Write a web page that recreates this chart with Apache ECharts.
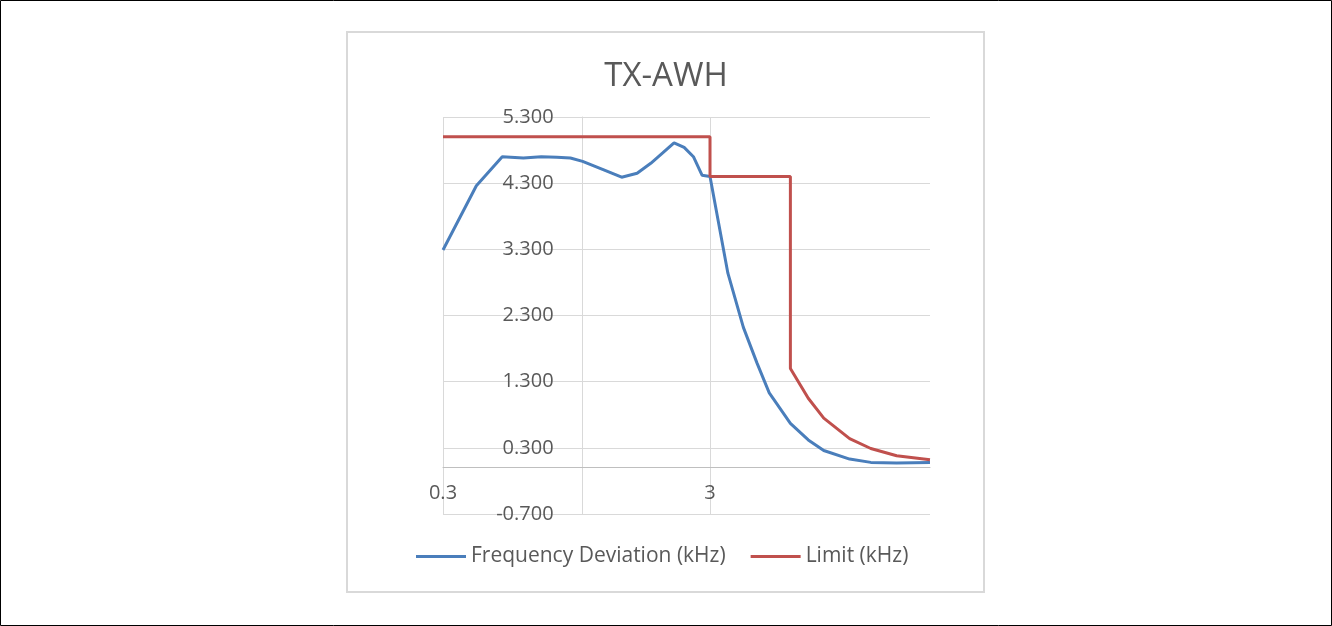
<!DOCTYPE html>
<html>
<head>
<meta charset="utf-8">
<title>TX-AWH</title>
<script src="https://cdn.jsdelivr.net/npm/echarts@6/dist/echarts.min.js"></script>
<style>
  html, body { margin: 0; padding: 0; background: #fff; }
  #chart { width: 1332px; height: 626px; }
</style>
</head>
<body>
<div id="chart"></div>
<script>
// 频率点 (kHz)
const devFreq = [0.3, 0.4, 0.5, 0.6, 0.7, 0.8, 0.9, 1.0, 1.2, 1.4, 1.6, 1.8, 2.0, 2.2, 2.4, 2.6, 2.8, 3.0, 3.5, 4, 4.5, 5, 6, 7, 8, 10, 12, 15, 20]
const devValue = [3.29, 4.26, 4.70, 4.68, 4.70, 4.69, 4.68, 4.63, 4.50, 4.39, 4.45, 4.60, 4.76, 4.91, 4.84, 4.70, 4.42, 4.40, 2.94, 2.12, 1.58, 1.13, 0.67, 0.42, 0.26, 0.13, 0.08, 0.07, 0.08]
const limitFreq = [0.3, 3, 3, 6, 6, 7, 8, 10, 12, 15, 20]
const limitValue = [5.0, 5.0, 4.4, 4.4, 1.5, 1.05, 0.75, 0.44, 0.29, 0.18, 0.12]
const yTicks = [-0.7, 0.3, 1.3, 2.3, 3.3, 4.3, 5.3]
const xLabels = [0.3, 3]
const xGrid = [0.3, 1, 3]

const pairs = (xs, ys) => xs.map((x, i) => [x, ys[i]])
const font = '"Open Sans", "Liberation Sans", sans-serif'
const grey = '#595959'

const myChart = echarts.init(document.getElementById('chart'))
const option = {
  animation: false,
  graphic: [
    // 外框
    { type: 'rect', shape: { x: 0.5, y: 0.5, width: 1331, height: 625 }, style: { fill: 'none', stroke: '#000', lineWidth: 1 } },
    // 图表区边框
    { type: 'rect', shape: { x: 347, y: 32, width: 637, height: 560 }, style: { fill: 'none', stroke: '#d9d9d9', lineWidth: 2 } }
  ],
  title: {
    text: 'TX-AWH',
    left: 'center',
    top: 55,
    textStyle: { fontFamily: font, fontSize: 33, fontWeight: 'normal', color: grey }
  },
  legend: {
    left: 411,
    top: 541,
    icon: 'rect',
    itemWidth: 50,
    itemHeight: 3,
    itemGap: 25,
    textStyle: { fontFamily: font, fontSize: 21, color: grey }
  },
  grid: { left: 443, right: 402, top: 117, bottom: 112 },
  xAxis: {
    type: 'log',
    logBase: 10,
    min: 0.3,
    max: 20,
    axisLine: { onZero: true, lineStyle: { color: '#bfbfbf', width: 1 } },
    axisTick: { show: false, customValues: xGrid },
    axisLabel: {
      customValues: xLabels,
      margin: -31, // 标签贴近 0 线
      fontFamily: font,
      fontSize: 20,
      color: grey,
      formatter: v => String(+(+v).toPrecision(3))
    },
    splitLine: { show: true, lineStyle: { color: '#d9d9d9', width: 1 } }
  },
  yAxis: {
    type: 'value',
    min: -0.7,
    max: 5.3,
    offset: -139.6, // 纵轴在 1 kHz 处交叉
    axisLine: { show: true, onZero: false, lineStyle: { color: '#d9d9d9', width: 1 } },
    axisTick: { show: false, customValues: yTicks },
    axisLabel: {
      customValues: yTicks,
      margin: 29,
      fontFamily: font,
      fontSize: 20,
      color: grey,
      formatter: v => (+v).toFixed(3)
    },
    splitLine: { show: true, lineStyle: { color: '#d9d9d9', width: 1 } }
  },
  series: [
    {
      name: 'Frequency Deviation (kHz)',
      type: 'line',
      symbol: 'none',
      color: '#4a7ebb',
      lineStyle: { width: 3 },
      data: pairs(devFreq, devValue)
    },
    {
      name: 'Limit (kHz)',
      type: 'line',
      symbol: 'none',
      color: '#c0504d',
      lineStyle: { width: 3 },
      data: pairs(limitFreq, limitValue)
    }
  ]
}
myChart.setOption(option)
</script>
</body>
</html>
